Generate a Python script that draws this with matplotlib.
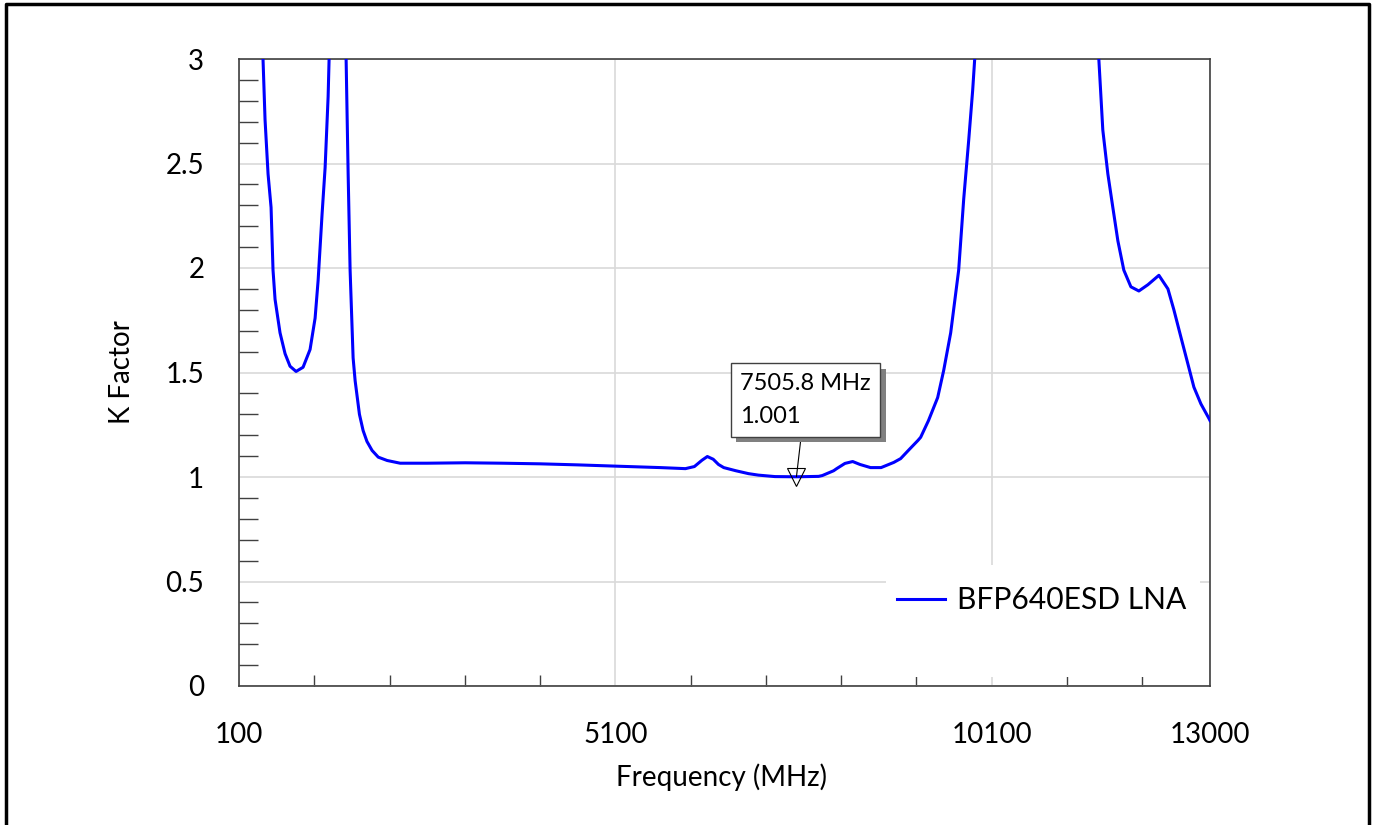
import matplotlib
matplotlib.use("Agg")
import matplotlib.pyplot as plt
import matplotlib.patheffects as pe
from matplotlib.lines import Line2D
from matplotlib.patches import Rectangle
from matplotlib.ticker import FixedLocator

plt.rcParams['font.family'] = ['Lato', 'DejaVu Sans']

# K factor of the LNA (values above 3 are off-scale)
freq = [100, 300, 419, 446, 486, 526, 552, 579, 645, 712, 778, 858, 951, 1044,
        1111, 1151, 1204, 1244, 1284, 1297, 1350, 1420, 1490, 1523, 1550, 1576,
        1616, 1643, 1700, 1749, 1800, 1868, 1950, 2068, 2241, 2600, 3105, 3600,
        4103, 4600, 5100, 5698, 6031, 6150, 6250, 6322, 6400, 6470, 6540, 6700,
        6870, 7000, 7220, 7505.8, 7800, 7850, 8000, 8040, 8150, 8253, 8350, 8490,
        8630, 8800, 8890, 9000, 9120, 9156, 9260, 9382, 9462, 9555, 9661, 9728,
        9794, 9847, 9874, 10000, 10700, 11400, 11523, 11576, 11643, 11709, 11776,
        11855, 11949, 12055, 12175, 12321, 12441, 12520, 12613, 12707, 12786,
        12879, 12986, 13000]
kfac = [6.0, 4.0, 3.0, 2.71, 2.45, 2.29, 1.99, 1.85, 1.69, 1.59, 1.53, 1.505, 1.525, 1.61,
        1.76, 1.94, 2.26, 2.48, 2.82, 3.0, 4.5, 6.0, 4.5, 3.0, 2.45, 1.99,
        1.57, 1.46, 1.30, 1.222, 1.17, 1.127, 1.095, 1.079, 1.066, 1.066, 1.068, 1.066,
        1.063, 1.058, 1.052, 1.045, 1.04, 1.05, 1.08, 1.098, 1.085, 1.06, 1.045, 1.03,
        1.016, 1.009, 1.002, 1.001, 1.003, 1.007, 1.03, 1.04, 1.065, 1.074, 1.06, 1.045,
        1.045, 1.07, 1.088, 1.13, 1.175, 1.19, 1.27, 1.38, 1.51, 1.69, 1.99, 2.33,
        2.61, 2.85, 3.0, 4.0, 5.0, 4.0, 3.0, 2.66, 2.45, 2.29, 2.13,
        1.99, 1.91, 1.89, 1.92, 1.965, 1.90, 1.80, 1.67, 1.54, 1.43,
        1.35, 1.28, 1.27]

xticks = [100, 5100, 10100, 13000]
xminor = [1100, 2100, 3100, 4100, 6100, 7100, 8100, 9100, 11100, 12100]
yticks = [0, 0.5, 1, 1.5, 2, 2.5, 3]
ylabels = ['0', '0.5', '1', '1.5', '2', '2.5', '3']
yminor = [0.1, 0.2, 0.3, 0.4, 0.6, 0.7, 0.8, 0.9, 1.1, 1.2, 1.3, 1.4, 1.6, 1.7,
          1.8, 1.9, 2.1, 2.2, 2.3, 2.4, 2.6, 2.7, 2.8, 2.9]
marker_f = 7505.8
marker_k = 1.001

fig = plt.figure(figsize=(13.75, 8.25), dpi=100)
ax = fig.add_axes([239/1375, 1-686/825, 971/1375, 627/825])

ax.plot(freq, kfac, color='#0000FF', lw=2.2, label='BFP640ESD LNA', zorder=3)

ax.set_xlim(100, 13000)
ax.set_ylim(0, 3)
ax.set_xticks(xticks)
ax.set_xticklabels([str(v) for v in xticks])
ax.xaxis.set_minor_locator(FixedLocator(xminor))
ax.set_yticks(yticks)
ax.set_yticklabels(ylabels)
ax.yaxis.set_minor_locator(FixedLocator(yminor))

ax.tick_params(which='major', length=0, labelsize=20)
ax.tick_params(axis='x', which='major', pad=26)
ax.tick_params(axis='y', which='major', pad=25)
ax.tick_params(which='minor', direction='in', color='#404040', width=1)
ax.tick_params(axis='x', which='minor', length=8)
ax.tick_params(axis='y', which='minor', length=14)

ax.grid(True, which='major', color='#d9d9d9', lw=1.2, zorder=0)
for s in ax.spines.values():
    s.set_color('#404040')
    s.set_linewidth(1.2)

ax.set_xlabel('Frequency (MHz)', fontsize=20)
ax.set_ylabel('K Factor', fontsize=20)
ax.xaxis.set_label_coords(0.497, -0.123)
ax.yaxis.set_label_coords(-0.107, 0.5)

# white legend area
ax.add_patch(Rectangle((0.666, 0.0144), 0.324, 0.179, transform=ax.transAxes,
                       facecolor='white', edgecolor='none', zorder=2))
ax.legend(loc='center left', bbox_to_anchor=(0.650, 0.137), frameon=False,
          fontsize=21.6, handlelength=1.6, handletextpad=0.4)

# marker readout
ax.plot(marker_f, marker_k, marker='v', ms=13, mfc='none', mec='black', mew=0.8, zorder=4)
ann = ax.annotate('%.1f MHz\n%.3f' % (marker_f, marker_k), xy=(marker_f, marker_k),
                  xytext=(0.516, 0.456), textcoords='axes fraction',
                  ha='left', va='center', fontsize=17, linespacing=1.75,
                  bbox=dict(boxstyle='square,pad=0.4', fc='white', ec='#404040', lw=1),
                  arrowprops=dict(arrowstyle='-', color='black', lw=0.8,
                                  shrinkA=0, shrinkB=0), zorder=5)
ann.get_bbox_patch().set_path_effects([
    pe.withSimplePatchShadow(offset=(4, -4), shadow_rgbFace='#808080', alpha=1)])

# outer frame (no bottom edge)
fig.add_artist(Line2D([6/1375, 6/1375, 1369/1375, 1369/1375],
                      [0, 1-4/825, 1-4/825, 0], color='black', lw=2.5))

fig.savefig('out.png', dpi=100)
